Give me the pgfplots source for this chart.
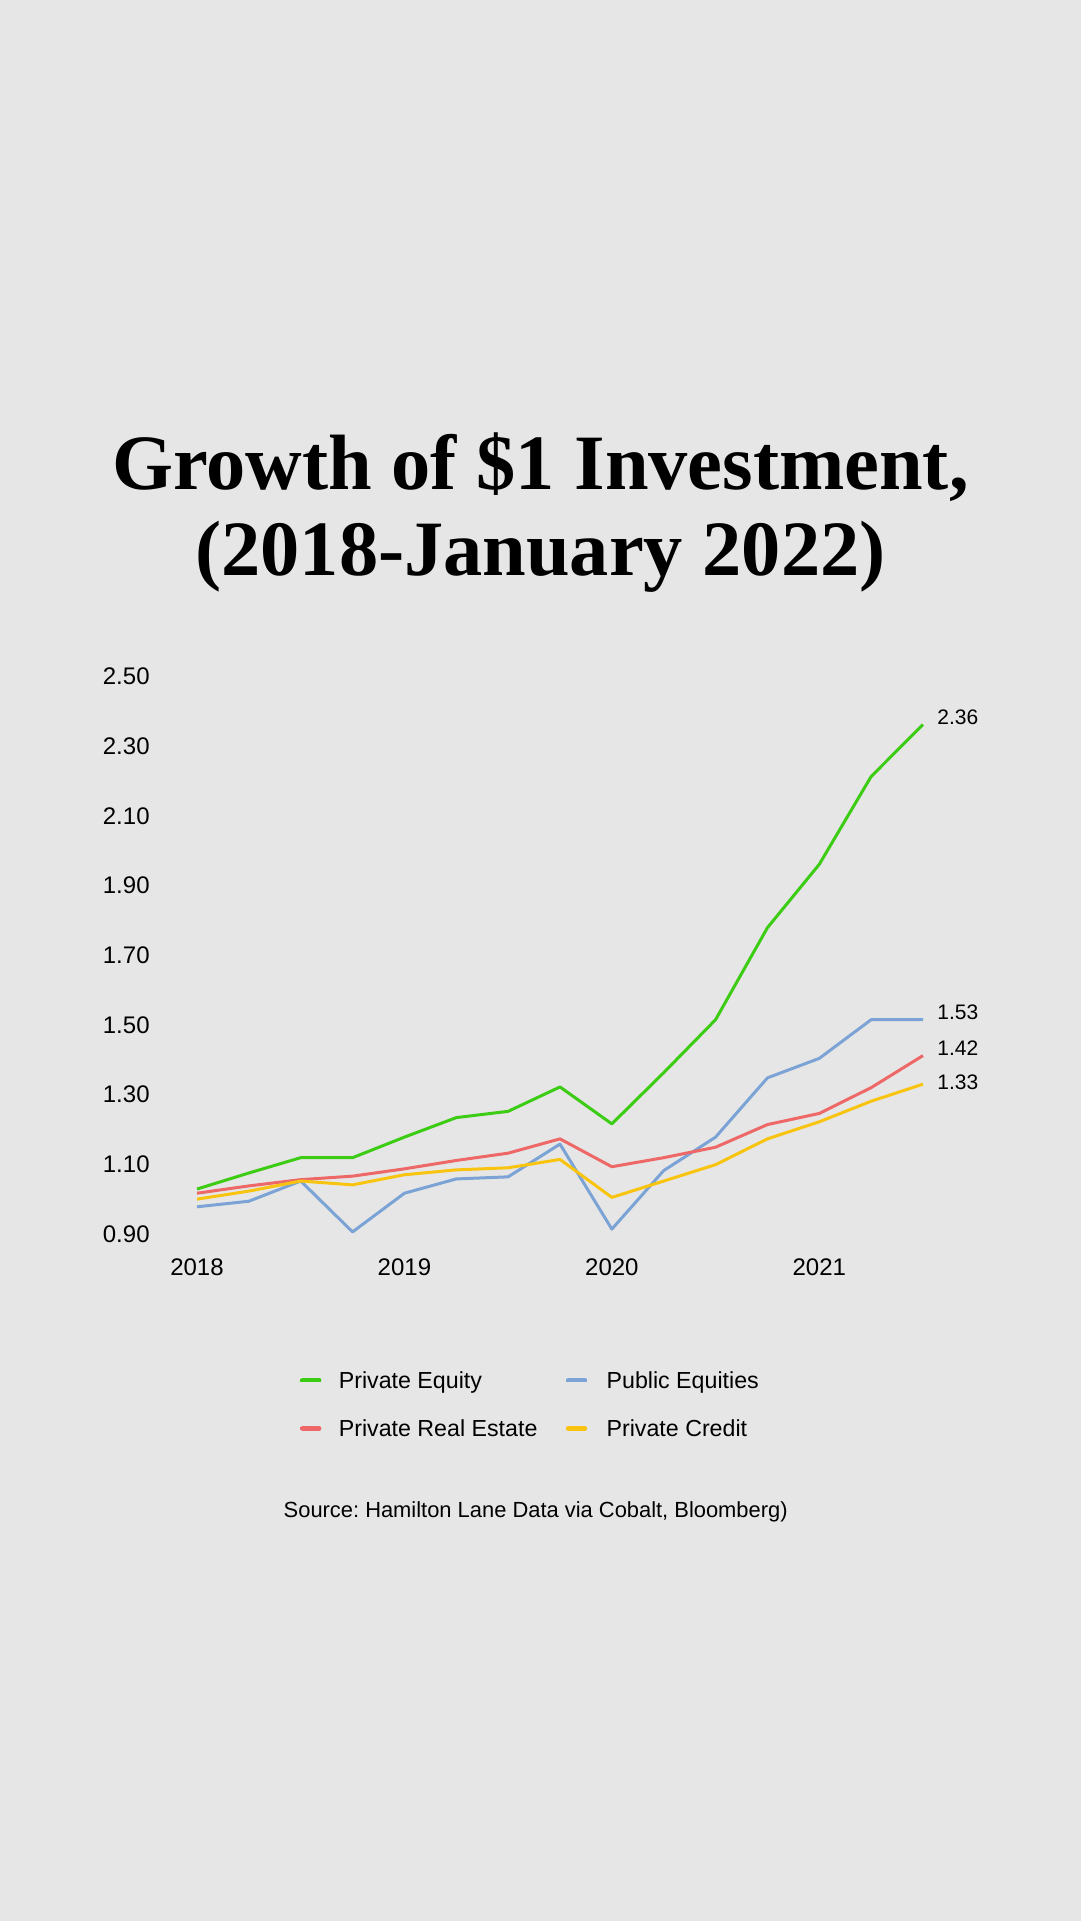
\documentclass[border=0pt]{standalone}
\usepackage{pgfplots}
\pgfplotsset{compat=1.18}
\usepackage{pgfplotstable}
\usepackage{fontspec}
\setmainfont{Liberation Sans}
\newfontfamily\titlefont{Liberation Serif}
\frenchspacing

\definecolor{bg}{HTML}{E6E6E6}
\definecolor{cgreen}{HTML}{3DCC14}
\definecolor{cblue}{HTML}{7BA3D6}
\definecolor{cred}{HTML}{EE6868}
\definecolor{cyellow}{HTML}{F8C410}

\pgfplotstableread{
x        pe     pub    pre    pc
2018.00  1.029  0.978  1.017  1.000
2018.25  1.075  0.994  1.038  1.023
2018.50  1.119  1.052  1.056  1.052
2018.75  1.119  0.906  1.066  1.041
2019.00  1.178  1.017  1.087  1.070
2019.25  1.234  1.058  1.111  1.084
2019.50  1.252  1.064  1.132  1.090
2019.75  1.322  1.158  1.173  1.114
2020.00  1.216  0.914  1.093  1.005
2020.25  1.363  1.082  1.119  1.052
2020.50  1.515  1.178  1.149  1.099
2020.75  1.779  1.348  1.214  1.173
2021.00  1.961  1.404  1.246  1.222
2021.25  2.213  1.515  1.320  1.281
2021.50  2.362  1.515  1.412  1.330
}\growth

\begin{document}
\begin{tikzpicture}
\fill[bg] (0,0) rectangle (540.5pt,960.5pt);
\node[anchor=base, inner sep=0pt] at (270.25pt,715.5pt) {\titlefont\bfseries\fontsize{39.2}{42}\selectfont Growth of \$1 Investment,};
\node[anchor=base, inner sep=0pt] at (270.25pt,672.5pt) {\titlefont\bfseries\fontsize{39.2}{42}\selectfont (2018-January 2022)};
\begin{axis}[
  at={(98.5pt,343.5pt)}, anchor=south west,
  scale only axis, width=363pt, height=278.75pt,
  xmin=2018, xmax=2021.5, ymin=0.9, ymax=2.5,
  clip=false,
  axis line style={draw=none},
  tick style={draw=none},
  major tick length=0pt,
  xtick={2018,2019,2020,2021},
  xticklabels={2018,2019,2020,2021},
  ytick={0.9,1.1,1.3,1.5,1.7,1.9,2.1,2.3,2.5},
  yticklabels={0.90,1.10,1.30,1.50,1.70,1.90,2.10,2.30,2.50},
  tick label style={font=\fontsize{12}{14}\selectfont, inner sep=0pt},
  yticklabel style={anchor=east, xshift=-23.5pt},
  xticklabel style={anchor=center, yshift=-16.5pt},
  every axis plot/.append style={line width=1.5pt, line join=round},
  legend columns=2,
  legend cell align=left,
  legend image code/.code={\path (0pt,0pt) -- (10.5pt,0pt); \draw[line width=2.1pt, line cap=round] (1.05pt,0pt) -- (9.45pt,0pt);},
  legend style={at={(axis description cs:0.1403,-0.2475)}, anchor=north west,
    draw=none, fill=none, inner sep=0pt, outer sep=0pt,
    font=\fontsize{11.6}{13}\selectfont,
    nodes={inner sep=0pt, text height=8.3pt, text depth=0pt},
    column sep=8pt, row sep=15.85pt,
    /tikz/column 2/.style={column sep=13.6pt},
    /tikz/column 3/.style={column sep=9pt}},
]
\addplot[cgreen] table[x=x, y=pe] {\growth};
\addlegendentry{Private Equity}
\addplot[cblue] table[x=x, y=pub] {\growth};
\addlegendentry{Public Equities}
\addplot[cred] table[x=x, y=pre] {\growth};
\addlegendentry{Private Real Estate}
\addplot[cyellow] table[x=x, y=pc] {\growth};
\addlegendentry{Private Credit}
\node[anchor=west, inner sep=0pt, font=\fontsize{10.5}{12}\selectfont] at (axis cs:2021.5,2.383) [xshift=7pt] {2.36};
\node[anchor=west, inner sep=0pt, font=\fontsize{10.5}{12}\selectfont] at (axis cs:2021.5,1.535) [xshift=7pt] {1.53};
\node[anchor=west, inner sep=0pt, font=\fontsize{10.5}{12}\selectfont] at (axis cs:2021.5,1.433) [xshift=7pt] {1.42};
\node[anchor=west, inner sep=0pt, font=\fontsize{10.5}{12}\selectfont] at (axis cs:2021.5,1.336) [xshift=7pt] {1.33};
\end{axis}
\node[anchor=base, inner sep=0pt, font=\fontsize{10.95}{12}\selectfont] at (267.85pt,201.5pt) {Source: Hamilton Lane Data via Cobalt, Bloomberg)};
\pgfresetboundingbox
\useasboundingbox (0,0) rectangle (540.5pt,960.5pt);
\end{tikzpicture}
\end{document}
